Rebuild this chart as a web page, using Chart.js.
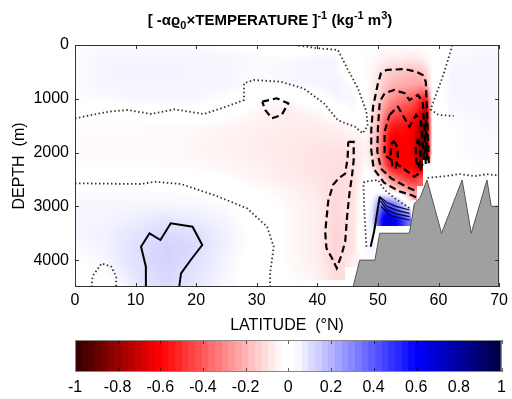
<!DOCTYPE html>
<html>
<head>
<meta charset="utf-8">
<script src="https://cdn.jsdelivr.net/npm/chart.js@4.4.1/dist/chart.umd.min.js"></script>
<style>
    html, body { margin: 0; padding: 0; background: #fff; width: 512px; height: 399px; overflow: hidden; }
    #main { position: absolute; left: 0; top: 0; }
    #bar { position: absolute; left: 0; top: 335px; }
</style>
</head>
<body>
<canvas id="main" width="512" height="335"></canvas>
<canvas id="bar" width="512" height="64"></canvas>
<script>
// Grid of the field: latitude columns, depth rows
const lats = [0, 5, 10, 15, 20, 25, 30, 35, 40, 43, 46, 48, 49, 50, 51, 52, 53, 54, 55, 56, 57, 58, 59, 62, 66, 70];
const depths = [0, 250, 500, 750, 1000, 1250, 1500, 1750, 2000, 2250, 2500, 2750, 3000, 3250, 3500, 3750, 4000, 4250, 4500];
const N = null;
const field = [
    [ .03, .04, .04, .04, .04, .03, .02, .00,-.02,-.02,-.03,-.03,-.03,-.03,-.03,-.03,-.03,-.03,-.03,-.03,-.03,-.02,-.01, .03, .04, .04],
    [ .04, .05, .05, .05, .05, .05, .04, .04, .05, .05,-.03,-.04,-.04,-.05,-.06,-.07,-.07,-.07,-.08,-.08,-.07,-.05,-.03, .04, .05, .05],
    [ .04, .05, .06, .06, .05, .05, .04, .05, .05, .05, .00,-.04,-.05,-.08,-.12,-.14,-.15,-.16,-.17,-.18,-.17,-.12,-.03, .05, .05, .05],
    [ .04, .05, .05, .05, .05, .05, .03, .04, .05, .06, .03,-.03,-.06,-.10,-.15,-.19,-.21,-.22,-.23,-.24,-.25,-.20,-.01, .05, .05, .05],
    [ .03, .04, .05, .05, .05, .03,-.02,-.04, .00, .05, .05,-.02,-.07,-.12,-.20,-.26,-.30,-.33,-.36,-.40,-.48,-.55, .00, .05, .05, .05],
    [ .00, .00, .01, .00, .01,-.02,-.05,-.07,-.05, .00, .04, .01,-.08,-.15,-.28,-.38,-.42,-.45,-.48,-.52,-.62,-.75, .00, .04, .05, .05],
    [-.035,-.035,-.035,-.04,-.04,-.05,-.06,-.07,-.07,-.06,-.04,-.02,-.10,-.20,-.38,-.52,-.55,-.56,-.58,-.62,-.75,-.85, .00, .03, .04, .05],
    [-.04,-.04,-.04,-.04,-.05,-.06,-.07,-.08,-.08,-.08,-.07,-.05,-.11,-.22,-.42,-.60,-.63,-.60,-.60,-.64,-.82,-.90, .00, .03, .04, .04],
    [-.04,-.04,-.04,-.04,-.05,-.06,-.07,-.08,-.09,-.10,-.09,-.06,-.11,-.22,-.45,-.62,-.64,-.60,-.60,-.64,-.84,-.90, .00, .03, .04, .04],
    [-.035,-.035,-.035,-.04,-.04,-.05,-.06,-.08,-.09,-.10,-.10,-.04,-.08,-.18,-.38,-.55,-.60,-.60,-.60,-.62,-.72,   N, .00, .02, .03, .03],
    [-.01,-.01,-.01,-.01,-.02,-.03,-.05,-.07,-.09,-.11,-.10,-.01,-.02,-.03,-.12,-.25,-.35,-.42,-.48,-.50,-.40,   N,   N,   N,   N,   N],
    [ .04, .04, .04, .04, .03, .01,-.03,-.05,-.08,-.11,-.10, .01, .02, .05, .02,-.02,-.05,-.10,-.18,-.25,   N,   N,   N,   N,   N,   N],
    [ .05, .05, .05, .05, .05, .04,-.01,-.04,-.07,-.12,-.09, .01, .06, .25, .45, .45, .35, .20, .05,   N,   N,   N,   N,   N,   N,   N],
    [ .05, .05, .07, .09, .07, .05, .01,-.04,-.07,-.12,-.09, .03, .08, .40, .65, .68, .60, .50, .35,   N,   N,   N,   N,   N,   N,   N],
    [ .05, .06, .09, .11, .10, .06, .02,-.04,-.07,-.13,-.09, .04, .05,   N,   N,   N,   N,   N,   N,   N,   N,   N,   N,   N,   N,   N],
    [ .04, .06, .10, .13, .11, .06, .02,-.04,-.07,-.13,-.09, .04, .05,   N,   N,   N,   N,   N,   N,   N,   N,   N,   N,   N,   N,   N],
    [ .03, .05, .10, .13, .10, .05, .01,-.04,-.07,-.13,-.06,   N,   N,   N,   N,   N,   N,   N,   N,   N,   N,   N,   N,   N,   N,   N],
    [ .02, .03, .09, .12, .09, .05, .01,-.03,-.06,-.11,   N,   N,   N,   N,   N,   N,   N,   N,   N,   N,   N,   N,   N,   N,   N,   N],
    [ .01,-.01, .08, .11, .08, .04, .01,-.03,   N,   N,   N,   N,   N,   N,   N,   N,   N,   N,   N,   N,   N,   N,   N,   N,   N,   N]
];

const xTicks = [0, 10, 20, 30, 40, 50, 60, 70];
const yTicks = [0, 1000, 2000, 3000, 4000];
const cbTicks = [-1, -0.8, -0.6, -0.4, -0.2, 0, 0.2, 0.4, 0.6, 0.8, 1];

// Bottom topography [lat, depth]
const topo = [[45.9,4500],[47.0,4000],[49.5,4000],[50.3,3500],[55.2,3500],[56.0,2950],[57.0,2830],[58.1,2510],
    [60.5,3500],[63.9,2510],[65.4,3500],[68.0,2510],[68.7,3000],[70,3000]];

// Contours [lat, depth]
const zeroLines = [
    [[0,1364],[5.5,1240],[8.7,1209],[12.6,1283],[16.4,1196],[21.3,1283],[25.7,1116],[27.9,1023],[27.9,713],[29.5,651],
     [33.9,682],[37.7,806],[41.1,1085],[43.4,1400],[46.2,1519],[47.5,1643],[48.3,1500],[48.1,1240],[46.7,806],[45,450],
     [43.4,93],[40,60],[36.3,0]],
    [[62.3,0],[61.5,300],[60.5,650],[59.5,950],[58.7,1200],[60,1300],[62.5,1320]],
    [[0,2572],[10.9,2585],[13.1,2542],[17.5,2585],[23,2790],[28.4,3037],[31.7,3379],[32.8,3751],[32.2,4246],[32.2,4500]],
    [[2.7,4500],[2.9,4300],[4.4,4060],[6.0,4122],[6.8,4308],[6.8,4500]],
    [[48.1,3751],[47.8,3193],[47.6,2572],[47.8,2542],[50,2510],[51.1,2696],[53,2870],[54.9,3007],[55.3,3050]],
    [[58.2,2470],[61,2440],[63.5,2400],[66,2440],[68,2400],[70,2430]]
];
const negLines = [
    [[30.9,1054],[33.3,991],[35.2,1085],[34.1,1302],[32.5,1364],[31.4,1209],[30.9,1054]],
    [[45.1,1800],[46.0,1800],[46.0,2140],[45.7,2450],[45.3,2760],[44.9,3200],[44.6,3650],[44.0,3900],[43.2,4150],
     [42.4,3960],[41.5,3780],[41.3,3480],[41.8,2900],[42.6,2600],[43.6,2470],[44.6,2390],[45.0,2100],[45.1,1800]],
    [[56.3,2830],[55.5,2790],[53.5,2720],[51,2560],[49.3,2300],[48.9,1953],[48.9,1581],[49.2,1147],[50,713],[50.5,527],
     [51.4,465],[54.4,446],[56.3,496],[57.4,558],[57.9,682],[58.1,1240],[58.3,1860],[58.4,2230]],
    [[56,2700],[54.9,2650],[52.2,2480],[50.5,2300],[49.9,1984],[50,1550],[50.3,1054],[51.1,898],[52.7,837],[54.4,898],
     [55.2,1023],[56.6,930],[57.4,1054],[57.6,1426],[57.8,1860],[57.9,2231]],
    [[51.9,1302],[53.3,1147],[54.4,1364],[55.2,1519],[56.3,1302],[57.1,1426],[57.4,1860],[57.6,2138],[56.8,2386],
     [56,2449],[53.8,2263],[52.2,2138],[51.1,2045],[51.1,1612],[51.9,1302]],
    [[52.6,1780],[53.2,1900],[53.3,2100],[52.9,2300],[52.4,2250],[52.1,2050],[52.2,1850],[52.6,1780]],
    [[56.6,1750],[57.0,1900],[57.0,2150],[56.7,2290],[56.3,2150],[56.2,1900],[56.6,1750]],
    [[57.9,1400],[58.0,1800],[58.2,2200]]
];
const posLines = [
    [[11.7,4500],[11.7,4122],[10.9,3751],[12.3,3501],[14.1,3626],[15.8,3316],[19.4,3379],[21.0,3719],[19.1,3998],[17.5,4246],[17.2,4500]],
    [[50.3,2820],[49.9,3100],[49.4,3450],[48.8,3750]]
];
const fanLines = [
    [[50.3,2820],[51.5,2930],[53,3000],[55.2,3068]],
    [[50.3,2830],[51.5,3000],[53,3070],[55.2,3130]],
    [[50.4,2900],[51.5,3070],[53,3140],[55.2,3192]],
    [[50.5,3000],[52,3170],[55.2,3254]]
];

// Colour map stops and number of colours in the bar
const cmapStops = [[-1, [48,0,0]], [-0.6, [255,0,0]], [-0.03, [255,255,255]], [0.03, [255,255,255]], [0.6, [0,0,255]], [1, [0,0,64]]];
const nColors = 64;

const FONT = '"Liberation Sans", Arial, Helvetica, sans-serif';

function mapColor(c) {
    c = Math.max(-1, Math.min(1, c));
    for (let i = 0; i < cmapStops.length - 1; i++) {
        const [a, ca] = cmapStops[i];
        const [b, cb] = cmapStops[i + 1];
        if (c <= b) {
            const t = (c - a) / (b - a);
            return ca.map((x, j) => Math.round(x + (cb[j] - x) * t));
        }
    }
    return cmapStops[cmapStops.length - 1][1];
}

function bandColor(k) {
    return mapColor(-1 + (k + 0.5) * 2 / nColors);
}

function findCell(arr, v) {
    for (let i = 0; i < arr.length - 2; i++) {
        if (v <= arr[i + 1]) return i;
    }
    return arr.length - 2;
}

function sample(lat, dep) {
    const i = findCell(lats, lat), j = findCell(depths, dep);
    const tx = (lat - lats[i]) / (lats[i + 1] - lats[i]);
    const ty = (dep - depths[j]) / (depths[j + 1] - depths[j]);
    const ni = tx < 0.5 ? i : i + 1, nj = ty < 0.5 ? j : j + 1;
    if (field[nj][ni] === null) return null;
    let s = 0, w = 0;
    [[i, j, (1 - tx) * (1 - ty)], [i + 1, j, tx * (1 - ty)], [i, j + 1, (1 - tx) * ty], [i + 1, j + 1, tx * ty]].forEach(([a, b, ww]) => {
        const v = field[b][a];
        if (v !== null) { s += v * ww; w += ww; }
    });
    return w > 0 ? s / w : null;
}

// Paint the field under the datasets
const fieldPlugin = {
    id: 'field',
    beforeDatasetsDraw(chart) {
        const { ctx, chartArea: a, scales: { x, y } } = chart;
        const w = Math.round(a.right - a.left), h = Math.round(a.bottom - a.top);
        const off = document.createElement('canvas');
        off.width = w; off.height = h;
        const octx = off.getContext('2d');
        const img = octx.createImageData(w, h);
        for (let py = 0; py < h; py++) {
            const dep = y.getValueForPixel(a.top + py + 0.5);
            for (let px = 0; px < w; px++) {
                const lat = x.getValueForPixel(a.left + px + 0.5);
                const v = sample(lat, dep);
                if (v === null) continue;
                const o = (py * w + px) * 4;
                const c = mapColor(v);
                img.data[o] = c[0]; img.data[o + 1] = c[1]; img.data[o + 2] = c[2]; img.data[o + 3] = 255;
            }
        }
        octx.putImageData(img, 0, 0);
        ctx.drawImage(off, a.left, a.top);
    }
};

function drawTitle(ctx, cx, baseline) {
    const parts = [['[ -\u03B1\u03F1', 0], ['0', 1], ['\u00D7TEMPERATURE ]', 0], ['-1', -1], [' (kg', 0], ['-1', -1], [' m', 0], ['3', -1], [')', 0]];
    const big = 'bold 15px ' + FONT, small = 'bold 11px ' + FONT;
    let total = 0;
    parts.forEach(([t, k]) => { ctx.font = k ? small : big; total += ctx.measureText(t).width; });
    let xx = cx - total / 2;
    ctx.fillStyle = '#000';
    ctx.textBaseline = 'alphabetic';
    ctx.textAlign = 'left';
    parts.forEach(([t, k]) => {
        ctx.font = k ? small : big;
        const dy = k === 1 ? 4 : (k === -1 ? -6 : 0);
        ctx.fillText(t, xx, baseline + dy);
        xx += ctx.measureText(t).width;
    });
}

const framePlugin = {
    id: 'frame',
    afterDraw(chart) {
        const { ctx, chartArea: a, scales: { x, y } } = chart;
        ctx.save();
        ctx.strokeStyle = '#333';
        ctx.lineWidth = 1;
        ctx.strokeRect(a.left + 0.5, a.top + 0.5, a.right - a.left - 1, a.bottom - a.top - 1);
        ctx.beginPath();
        xTicks.forEach(v => {
            const px = Math.round(x.getPixelForValue(v)) + 0.5;
            ctx.moveTo(px, a.bottom); ctx.lineTo(px, a.bottom - 4);
            ctx.moveTo(px, a.top); ctx.lineTo(px, a.top + 4);
        });
        yTicks.forEach(v => {
            const py = Math.round(y.getPixelForValue(v)) + 0.5;
            ctx.moveTo(a.left, py); ctx.lineTo(a.left + 4, py);
            ctx.moveTo(a.right, py); ctx.lineTo(a.right - 4, py);
        });
        ctx.stroke();
        drawTitle(ctx, 270, 25);
        ctx.restore();
    }
};

function lineSet(pts, dash, width, color) {
    return {
        data: pts.map(p => ({ x: p[0], y: p[1] })),
        showLine: true, pointRadius: 0, fill: false, tension: 0,
        borderColor: color, borderWidth: width, borderDash: dash, order: 1
    };
}

const datasets = [{
    data: topo.map(p => ({ x: p[0], y: p[1] })),
    showLine: true, pointRadius: 0, tension: 0,
    fill: { value: 4500 }, backgroundColor: '#a0a0a0', borderColor: '#555', borderWidth: 1, order: 0
}];
zeroLines.forEach(l => datasets.push(lineSet(l, [1.5, 2.5], 1.8, '#333')));
negLines.forEach(l => datasets.push(lineSet(l, [7, 4], 2.2, '#000')));
posLines.forEach(l => datasets.push(lineSet(l, [], 2, '#000')));
fanLines.forEach(l => datasets.push(lineSet(l, [], 1.2, '#000030')));

const tickFont = { family: FONT, size: 16 };

new Chart(document.getElementById('main'), {
    type: 'scatter',
    data: { datasets: datasets },
    options: {
        responsive: false,
        animation: false,
        events: [],
        layout: { padding: { top: 45, right: 10, left: 0, bottom: 0 } },
        plugins: { legend: { display: false }, tooltip: { enabled: false } },
        scales: {
            x: {
                type: 'linear', min: 0, max: 70,
                afterBuildTicks: s => { s.ticks = xTicks.map(v => ({ value: v })); },
                afterFit: s => { s.height = 48; },
                grid: { display: false, drawTicks: false },
                border: { display: false },
                ticks: { color: '#000', font: tickFont, padding: 4, maxRotation: 0, autoSkip: false, callback: v => String(v) },
                title: { display: true, text: 'LATITUDE  (\u00B0N)', color: '#000', font: tickFont, padding: { top: 0, bottom: 0 } }
            },
            y: {
                type: 'linear', min: 0, max: 4500, reverse: true,
                afterBuildTicks: s => { s.ticks = yTicks.map(v => ({ value: v })); },
                afterFit: s => { s.width = 75; },
                grid: { display: false, drawTicks: false },
                border: { display: false },
                ticks: { color: '#000', font: tickFont, padding: 6, autoSkip: false, callback: v => String(v) },
                title: { display: true, text: 'DEPTH  (m)', color: '#000', font: tickFont, padding: { top: 10, bottom: 0 } }
            }
        }
    },
    plugins: [fieldPlugin, framePlugin]
});

// Colour bar
function barGradient(chart) {
    const a = chart.chartArea;
    if (!a) return null;
    const x = chart.scales.x;
    const g = chart.ctx.createLinearGradient(x.getPixelForValue(-1), 0, x.getPixelForValue(1), 0);
    for (let k = 0; k < nColors; k++) {
        const col = 'rgb(' + bandColor(k).join(',') + ')';
        g.addColorStop(k / nColors, col);
        g.addColorStop((k + 1) / nColors, col);
    }
    return g;
}

const barFrame = {
    id: 'barFrame',
    afterDraw(chart) {
        const { ctx, chartArea: a, scales: { x } } = chart;
        ctx.save();
        ctx.strokeStyle = 'rgba(0,0,0,0.6)';
        ctx.lineWidth = 1;
        ctx.beginPath();
        cbTicks.forEach(v => {
            const px = Math.round(x.getPixelForValue(v)) + 0.5;
            ctx.moveTo(px, a.top); ctx.lineTo(px, a.top + 4);
            ctx.moveTo(px, a.bottom); ctx.lineTo(px, a.bottom - 4);
        });
        ctx.stroke();
        ctx.strokeStyle = '#888';
        ctx.strokeRect(a.left + 0.5, a.top + 0.5, a.right - a.left - 1, a.bottom - a.top - 1);
        ctx.restore();
    }
};

new Chart(document.getElementById('bar'), {
    type: 'bar',
    data: {
        labels: [''],
        datasets: [{
            data: [[-1, 1]],
            backgroundColor: ctx => barGradient(ctx.chart),
            borderWidth: 0, barPercentage: 1, categoryPercentage: 1
        }]
    },
    options: {
        indexAxis: 'y',
        responsive: false,
        animation: false,
        events: [],
        layout: { padding: { top: 5, left: 75, right: 10, bottom: 0 } },
        plugins: { legend: { display: false }, tooltip: { enabled: false } },
        scales: {
            x: {
                type: 'linear', min: -1, max: 1,
                afterBuildTicks: s => { s.ticks = cbTicks.map(v => ({ value: v })); },
                afterFit: s => { s.height = 27; },
                grid: { display: false, drawTicks: false },
                border: { display: false },
                ticks: { color: '#000', font: tickFont, padding: 6, maxRotation: 0, autoSkip: false,
                    callback: v => String(Math.round(v * 10) / 10) }
            },
            y: { display: false }
        }
    },
    plugins: [barFrame]
});
</script>
</body>
</html>
